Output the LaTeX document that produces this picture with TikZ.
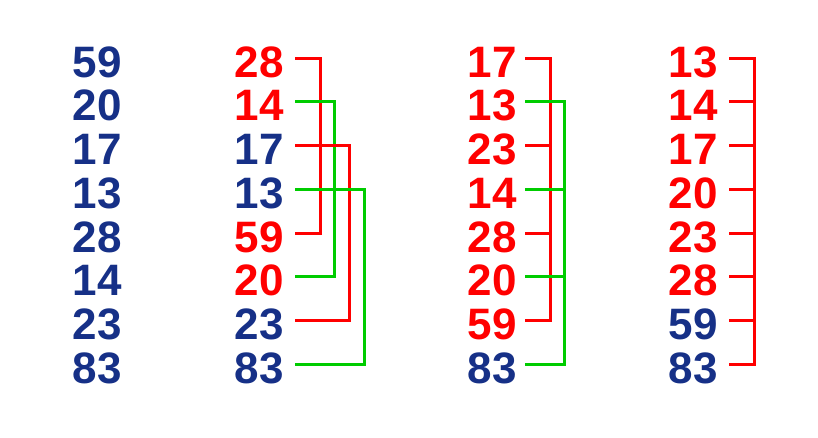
\documentclass[tikz,border=0pt]{standalone}
\usepackage{fontspec}
\setmainfont{Liberation Sans}
\definecolor{nb}{RGB}{22,48,135}
\definecolor{nr}{RGB}{255,0,0}
\definecolor{ng}{RGB}{0,204,0}
\tikzset{
  num/.style={anchor=east, inner sep=0pt, text height=38pt, text depth=0pt,
    font=\fontsize{44}{44}\selectfont\bfseries},
  redline/.style={draw=nr, line width=3pt},
  greenline/.style={draw=ng, line width=3pt}
}

\begin{document}
\begin{tikzpicture}[x=1pt, y=-1pt]
    \useasboundingbox (0,0) rectangle (818,437);
    \foreach \v/\c [count=\i] in {59/nb,20/nb,17/nb,13/nb,28/nb,14/nb,23/nb,83/nb}
        \node[num, text=\c] (a\i) at (122,{58+43.75*(\i-1)}) {\v};
    \foreach \v/\c [count=\i] in {28/nr,14/nr,17/nb,13/nb,59/nr,20/nr,23/nb,83/nb}
        \node[num, text=\c] (b\i) at (284,{58+43.75*(\i-1)}) {\v};
    \foreach \v/\c [count=\i] in {17/nr,13/nr,23/nr,14/nr,28/nr,20/nr,59/nr,83/nb}
        \node[num, text=\c] (c\i) at (517,{58+43.75*(\i-1)}) {\v};
    \foreach \v/\c [count=\i] in {13/nr,14/nr,17/nr,20/nr,23/nr,28/nr,59/nb,83/nb}
        \node[num, text=\c] (d\i) at (718,{58+43.75*(\i-1)}) {\v};

    \draw[redline] ([xshift=11pt]b1.east) -| ([xshift=36pt]b5.east) -- ([xshift=11pt]b5.east);
    \draw[greenline] ([xshift=11pt]b2.east) -| ([xshift=50pt]b6.east) -- ([xshift=11pt]b6.east);
    \draw[redline] ([xshift=11pt]b3.east) -| ([xshift=65pt]b7.east) -- ([xshift=11pt]b7.east);
    \draw[greenline] ([xshift=11pt]b4.east) -| ([xshift=80pt]b8.east) -- ([xshift=11pt]b8.east);

    \draw[redline] ([xshift=8pt]c1.east) -| ([xshift=33pt]c7.east) -- ([xshift=8pt]c7.east);
    \draw[redline] ([xshift=8pt]c3.east) -- ([xshift=33pt]c3.east);
    \draw[redline] ([xshift=8pt]c5.east) -- ([xshift=33pt]c5.east);
    \draw[greenline] ([xshift=8pt]c2.east) -| ([xshift=47pt]c8.east) -- ([xshift=8pt]c8.east);
    \draw[greenline] ([xshift=8pt]c4.east) -- ([xshift=47pt]c4.east);
    \draw[greenline] ([xshift=8pt]c6.east) -- ([xshift=47pt]c6.east);

    \draw[redline] ([xshift=11pt]d1.east) -| ([xshift=36pt]d8.east) -- ([xshift=11pt]d8.east);
    \foreach \i in {2,...,7}
        \draw[redline] ([xshift=11pt]d\i.east) -- ([xshift=36pt]d\i.east);
\end{tikzpicture}
\end{document}
